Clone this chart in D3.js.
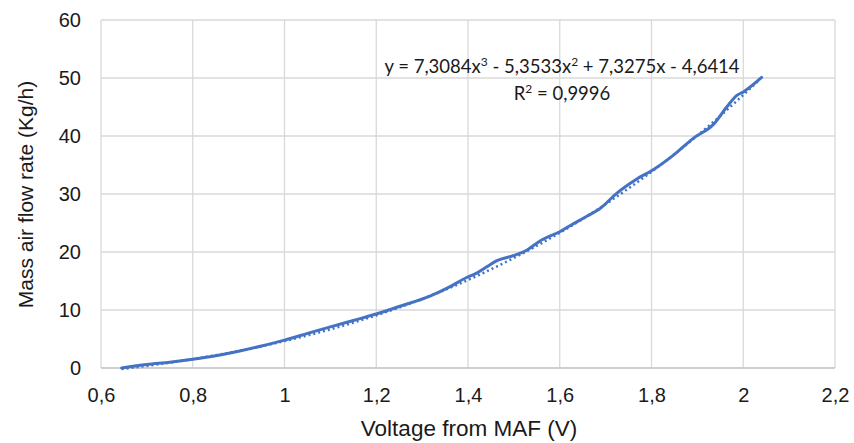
<!DOCTYPE html>
<html>
<head>
<meta charset="utf-8">
<script src="https://cdn.jsdelivr.net/npm/d3@7"></script>
<style>
  body { margin: 0; background: #fff; }
  .grid line { stroke: #d9d9d9; stroke-width: 1.3; }
  .axis text { font-family: "Liberation Sans", Arial, sans-serif; font-size: 20px; fill: #1a1a1a; }
</style>
</head>
<body>
<svg id="chart" width="854" height="443"></svg>
<script>

/*************************** Data ***************************/

var voltage = [0.645, 0.70, 0.75, 0.80, 0.85, 0.90, 0.95, 1.00, 1.056, 1.10, 1.15, 1.20, 1.25, 1.317, 1.36, 1.397,
               1.42, 1.44, 1.463, 1.50, 1.528, 1.557, 1.60, 1.624, 1.66, 1.688, 1.724, 1.753, 1.768, 1.80, 1.848,
               1.891, 1.935, 1.964, 1.986, 2.00, 2.04];
var flow    = [0, 0.6, 1.0, 1.5, 2.1, 2.9, 3.8, 4.8, 6.1, 7.1, 8.2, 9.3, 10.6, 12.4, 14.0, 15.6,
               16.4, 17.4, 18.5, 19.4, 20.3, 21.9, 23.5, 24.6, 26.2, 27.5, 30.1, 31.8, 32.6, 34.0, 36.7,
               39.6, 42.0, 45.0, 47.0, 47.6, 50.1];

// trendline coefficients shown on the chart (a, b, c, d for ax^3 + bx^2 + cx + d)
var trend_coef = [7.3084, -5.3533, 7.3275, -4.6414];

var x_ticks = [0.6, 0.8, 1.0, 1.2, 1.4, 1.6, 1.8, 2.0, 2.2];
var x_tick_labels = ["0,6", "0,8", "1", "1,2", "1,4", "1,6", "1,8", "2", "2,2"];
var y_ticks = [0, 10, 20, 30, 40, 50, 60];

/*************************** Setup ***************************/

var svg = d3.select("#chart");
var blue = "#4472c4";

var x = d3.scaleLinear().domain([0.6, 2.2]).range([101, 835]);
var y = d3.scaleLinear().domain([0, 60]).range([368, 20]);

/*************************** Grid ***************************/

var grid = svg.append("g").attr("class", "grid");

grid.selectAll(".vgrid").data(x_ticks).enter().append("line")
  .attr("class", "vgrid")
  .attr("x1", function(d){ return x(d); }).attr("x2", function(d){ return x(d); })
  .attr("y1", y(60)).attr("y2", y(0));

grid.selectAll(".hgrid").data(y_ticks).enter().append("line")
  .attr("class", "hgrid")
  .attr("x1", x(0.6)).attr("x2", x(2.2))
  .attr("y1", function(d){ return y(d); }).attr("y2", function(d){ return y(d); });

// bottom axis line a little darker
svg.append("line")
  .attr("x1", x(0.6)).attr("x2", x(2.2)).attr("y1", y(0)).attr("y2", y(0))
  .style("stroke", "#c8c8c8").style("stroke-width", 1.5);

/*************************** Axes labels ***************************/

var xAxis = d3.axisBottom(x).tickValues(x_ticks)
  .tickFormat(function(d, i){ return x_tick_labels[i]; })
  .tickSize(0).tickPadding(20);

svg.append("g").attr("class", "axis")
  .attr("transform", "translate(0," + y(0) + ")")
  .call(xAxis)
  .call(function(g){ g.select(".domain").remove(); });

var yAxis = d3.axisLeft(y).tickValues(y_ticks).tickSize(0).tickPadding(20);

svg.append("g").attr("class", "axis")
  .attr("transform", "translate(" + x(0.6) + ",0)")
  .call(yAxis)
  .call(function(g){ g.select(".domain").remove(); });

svg.append("text")
  .attr("x", 469).attr("y", 436)
  .attr("text-anchor", "middle")
  .style("font-family", "Liberation Sans, Arial, sans-serif").style("font-size", "22.5px").style("fill", "#1a1a1a")
  .text("Voltage from MAF (V)");

svg.append("text")
  .attr("transform", "translate(33,194.5) rotate(-90)")
  .attr("text-anchor", "middle")
  .style("font-family", "Liberation Sans, Arial, sans-serif").style("font-size", "21px").style("fill", "#1a1a1a")
  .text("Mass air flow rate (Kg/h)");

/*************************** Trendline ***************************/

var trend_x = d3.range(voltage[0], voltage[voltage.length-1] + 0.0001, 0.01);
var trend = function(v){ return trend_coef[0]*v*v*v + trend_coef[1]*v*v + trend_coef[2]*v + trend_coef[3]; };

svg.append("path")
  .datum(trend_x)
  .attr("d", d3.line().x(function(d){ return x(d); }).y(function(d){ return y(trend(d)); }))
  .style("fill", "none").style("stroke", blue).style("stroke-width", 2.5)
  .style("stroke-dasharray", "2,3");

/*************************** Data line ***************************/

svg.append("path")
  .datum(d3.range(voltage.length))
  .attr("d", d3.line().curve(d3.curveMonotoneX)
    .x(function(i){ return x(voltage[i]); })
    .y(function(i){ return y(flow[i]); }))
  .style("fill", "none").style("stroke", blue).style("stroke-width", 3)
  .style("stroke-linecap", "round");

/*************************** Equation ***************************/

var eq = svg.append("text")
  .attr("x", 562).attr("y", 73)
  .attr("text-anchor", "middle")
  .style("font-family", "Lato, 'Open Sans', sans-serif").style("font-size", "18.5px").style("fill", "#1a1a1a");
eq.append("tspan").text("y = 7,3084x");
eq.append("tspan").attr("dy", -7).style("font-size", "12px").text("3");
eq.append("tspan").attr("dy", 7).text(" - 5,3533x");
eq.append("tspan").attr("dy", -7).style("font-size", "12px").text("2");
eq.append("tspan").attr("dy", 7).text(" + 7,3275x - 4,6414");

var r2 = svg.append("text")
  .attr("x", 562).attr("y", 100)
  .attr("text-anchor", "middle")
  .style("font-family", "Lato, 'Open Sans', sans-serif").style("font-size", "18.5px").style("fill", "#1a1a1a");
r2.append("tspan").text("R");
r2.append("tspan").attr("dy", -7).style("font-size", "12px").text("2");
r2.append("tspan").attr("dy", 7).text(" = 0,9996");

</script>
</body>
</html>
